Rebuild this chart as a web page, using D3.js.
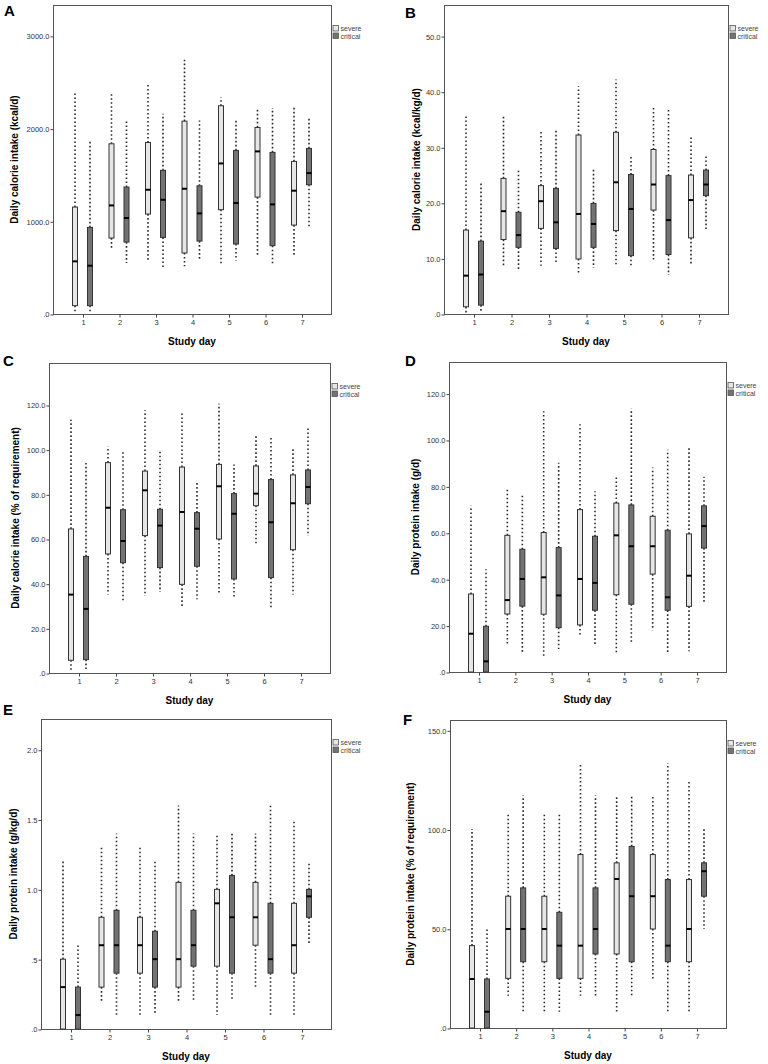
<!DOCTYPE html>
<html>
<head>
<meta charset="utf-8">
<script src="https://cdn.jsdelivr.net/npm/d3@7"></script>
<style>
  body { margin: 0; background: #fff; }
  svg { display: block; font-family: "Liberation Sans", Arial, sans-serif; }
</style>
</head>
<body>
<script>
const days = [1, 2, 3, 4, 5, 6, 7];
const groups = ["severe", "critical"];

// each row: [low whisker, Q1, median, Q3, high whisker], one row per study day
const kcalSevere = [[10, 90, 568, 1153, 2390], [693, 819, 1171, 1836, 2371], [568, 1078, 1340, 1850, 2472], [514, 658, 1351, 2080, 2742], [528, 1125, 1624, 2246, 2339], [629, 1261, 1754, 2012, 2228], [622, 959, 1330, 1646, 2239]];
const kcalCritical = [[29, 90, 521, 934, 1861], [550, 776, 1035, 1369, 2088], [496, 826, 1232, 1549, 2160], [578, 787, 1085, 1383, 2088], [578, 755, 1197, 1764, 2088], [532, 737, 1182, 1743, 2221], [927, 1394, 1520, 1786, 2131]];

const kcalKgSevere = [[0.2, 1.3, 6.9, 15.1, 35.8], [8.6, 13.4, 18.5, 24.4, 35.6], [8.7, 15.4, 20.3, 23.1, 33.2], [7.2, 9.9, 18.0, 32.2, 41.0], [8.7, 15.0, 23.7, 32.7, 42.2], [9.8, 18.7, 23.3, 29.6, 37.2], [8.7, 13.7, 20.5, 25.0, 32.0]];
const kcalKgCritical = [[0.4, 1.6, 7.1, 13.1, 23.7], [7.8, 12.0, 14.2, 18.3, 26.0], [9.0, 11.8, 16.5, 22.6, 33.4], [8.3, 12.0, 16.2, 19.9, 26.0], [8.4, 10.5, 18.9, 25.1, 28.3], [7.0, 10.7, 16.9, 24.9, 36.9], [15.3, 21.3, 23.3, 25.9, 28.6]];

const kcalPctSevere = [[0.9, 5.7, 35.1, 64.5, 113.4], [35.1, 53.3, 74.0, 94.2, 101.5], [34.5, 61.5, 81.8, 90.4, 117.6], [29.1, 39.7, 72.1, 92.2, 117.3], [35.1, 60.0, 83.6, 93.4, 120.6], [57.9, 74.9, 80.3, 92.7, 106.0], [35.1, 55.2, 76.0, 88.7, 100.3]];
const kcalPctCritical = [[1.8, 6.0, 28.7, 52.2, 94.0], [31.5, 49.4, 59.1, 73.1, 98.8], [36.3, 47.2, 66.0, 73.3, 99.7], [33.0, 47.8, 64.6, 71.8, 86.0], [33.6, 42.1, 71.3, 80.3, 93.4], [28.4, 42.7, 67.5, 86.6, 105.4], [61.3, 75.8, 83.3, 90.9, 109.6]];

const protSevere = [[0, 0, 16.5, 33.6, 71.6], [12.2, 25.0, 31.0, 58.9, 79.5], [6.0, 24.9, 40.8, 60.1, 112.4], [15.1, 20.3, 40.1, 70.0, 106.8], [8.0, 33.3, 58.9, 72.8, 84.5], [18.0, 42.2, 54.2, 67.1, 88.1], [8.9, 28.3, 41.5, 59.5, 97.4]];
const protCritical = [[0, 0, 4.6, 19.7, 44.3], [8.5, 28.4, 40.1, 52.9, 76.0], [9.9, 19.1, 33.0, 53.6, 90.2], [12.1, 26.6, 38.4, 58.5, 77.9], [12.1, 29.2, 54.2, 72.0, 113.5], [8.5, 26.6, 32.2, 61.1, 95.8], [30.0, 53.4, 62.9, 71.6, 84.1]];

const protKgSevere = [[0, 0, 0.3, 0.5, 1.2], [0.2, 0.3, 0.6, 0.8, 1.3], [0.1, 0.4, 0.6, 0.8, 1.3], [0.2, 0.3, 0.5, 1.05, 1.6], [0.1, 0.45, 0.9, 1.0, 1.4], [0.3, 0.6, 0.8, 1.05, 1.4], [0.1, 0.4, 0.6, 0.9, 1.5]];
const protKgCritical = [[0, 0, 0.1, 0.3, 0.6], [0.1, 0.4, 0.6, 0.85, 1.4], [0.1, 0.3, 0.5, 0.7, 1.2], [0.2, 0.45, 0.6, 0.85, 1.4], [0.2, 0.4, 0.8, 1.1, 1.4], [0.1, 0.4, 0.5, 0.9, 1.6], [0.6, 0.8, 0.95, 1.0, 1.2]];

const protPctSevere = [[0, 0, 24.7, 41.5, 100.3], [16.3, 25.0, 49.9, 66.4, 108.7], [8.2, 33.4, 49.9, 66.4, 108.7], [16.3, 25.0, 41.5, 87.4, 133.5], [8.2, 37.3, 75.1, 83.2, 117.1], [25.0, 49.9, 66.4, 87.4, 117.1], [8.2, 33.4, 49.9, 74.8, 125.1]];
const protPctCritical = [[0, 0, 8.2, 24.7, 50.2], [8.2, 33.4, 49.9, 70.6, 117.1], [8.2, 25.0, 41.5, 58.3, 108.7], [16.3, 37.3, 49.9, 70.6, 117.1], [16.3, 33.4, 66.4, 91.5, 117.1], [8.2, 33.4, 41.5, 74.8, 133.5], [49.9, 66.4, 79.0, 83.2, 100.3]];

const panelLetters = ["A", "B", "C", "D", "E", "F"];
const yTitles = [
  "Daily calorie intake (kcal/d)",
  "Daily calorie intake (kcal/kg/d)",
  "Daily calorie intake (% of requirement)",
  "Daily protein intake (g/d)",
  "Daily protein intake (g/kg/d)",
  "Daily protein intake (% of requirement)"
];
const yTicksA = [0, 1000, 2000, 3000];
const yTicksB = [0, 10, 20, 30, 40, 50];
const yTicksC = [0, 20, 40, 60, 80, 100, 120];
const yTicksD = [0, 20, 40, 60, 80, 100, 120];
const yTicksE = [0, 0.5, 1, 1.5, 2];
const yTicksF = [0, 50, 100, 150];
const xTitle = "Study day";

const width = 768;
const height = 1064;

// frame box of each plot, letter position, y title x
const panels = [
  { severe: kcalSevere, critical: kcalCritical, ticks: yTicksA, yMax: 3333, left: 53, right: 331, top: 5, bottom: 314, letter: [4, 16], titleX: 14 },
  { severe: kcalKgSevere, critical: kcalKgCritical, ticks: yTicksB, yMax: 55.6, left: 444, right: 728, top: 5, bottom: 314, letter: [405, 18], titleX: 416 },
  { severe: kcalPctSevere, critical: kcalPctCritical, ticks: yTicksC, yMax: 138.8, left: 49, right: 330, top: 363, bottom: 673, letter: [3, 366], titleX: 15 },
  { severe: protSevere, critical: protCritical, ticks: yTicksD, yMax: 133.6, left: 449, right: 726, top: 362, bottom: 672, letter: [405, 366], titleX: 415 },
  { severe: protKgSevere, critical: protKgCritical, ticks: yTicksE, yMax: 2.22, left: 41, right: 331, top: 719, bottom: 1029, letter: [3, 715], titleX: 13 },
  { severe: protPctSevere, critical: protPctCritical, ticks: yTicksF, yMax: 155.2, left: 450, right: 726, top: 720, bottom: 1028, letter: [403, 725], titleX: 410 }
];

const fill = { severe: "#e6e6e6", critical: "#737373" };

function fmt(v) {
  return d3.format(".1f")(v).replace(/^0\./, ".");
}

const svg = d3.select("body").append("svg")
  .attr("width", width)
  .attr("height", height)
  .attr("viewBox", [0, 0, width, height]);

svg.append("rect").attr("width", width).attr("height", height).attr("fill", "#fff");

panels.forEach(function (p, i) {
  const x = d3.scalePoint().domain(days).range([p.left + 29.5, p.right - 29.5]);
  const xg = d3.scalePoint().domain(groups).range([-7.5, 7.5]);
  const y = d3.scaleLinear().domain([0, p.yMax]).range([p.bottom, p.top]);

  const g = svg.append("g").attr("class", "panel");

  // frame
  g.append("rect")
    .attr("x", p.left + 0.5).attr("y", p.top + 0.5)
    .attr("width", p.right - p.left).attr("height", p.bottom - p.top)
    .attr("fill", "none").attr("stroke", "#555").attr("stroke-width", 1);

  const yAxis = g.append("g")
    .attr("transform", `translate(${p.left + 0.5},0.5)`)
    .call(d3.axisLeft(y).tickValues(p.ticks).tickFormat(fmt).tickSize(3).tickPadding(1));
  yAxis.select(".domain").remove();
  yAxis.selectAll("line").attr("stroke", "#444");
  yAxis.selectAll("text").attr("font-size", 7.5).attr("fill", "#333")
    .attr("font-family", "Liberation Sans, Arial, sans-serif");

  const xAxis = g.append("g")
    .attr("transform", `translate(0.5,${p.bottom + 0.5})`)
    .call(d3.axisBottom(x).tickSize(3).tickPadding(2));
  xAxis.select(".domain").remove();
  xAxis.selectAll("line").attr("stroke", "#444");
  xAxis.selectAll("text").attr("font-size", 7.5).attr("fill", "#333")
    .attr("font-family", "Liberation Sans, Arial, sans-serif");

  groups.forEach(function (grp) {
    const rows = p[grp];
    const boxes = g.append("g").selectAll("g")
      .data(rows.map((r, k) => ({ day: days[k], lo: r[0], q1: r[1], med: r[2], q3: r[3], hi: r[4] })))
      .join("g")
      .attr("transform", d => `translate(${x(d.day) + xg(grp)},0)`);

    // whiskers
    boxes.append("line")
      .attr("y1", d => y(d.q3)).attr("y2", d => y(d.hi))
      .attr("stroke", "#2a2a2a").attr("stroke-width", 1.6)
      .attr("stroke-dasharray", "1.6,2.4");
    boxes.filter(d => d.q1 > d.lo).append("line")
      .attr("y1", d => y(d.q1)).attr("y2", d => y(d.lo))
      .attr("stroke", "#2a2a2a").attr("stroke-width", 1.6)
      .attr("stroke-dasharray", "1.6,2.4");

    boxes.append("rect")
      .attr("x", -2.5).attr("width", 5)
      .attr("y", d => y(d.q3)).attr("height", d => y(d.q1) - y(d.q3))
      .attr("fill", fill[grp]).attr("stroke", "#333").attr("stroke-width", 1);

    boxes.append("line")
      .attr("x1", -2.5).attr("x2", 2.5)
      .attr("y1", d => y(d.med)).attr("y2", d => y(d.med))
      .attr("stroke", "#000").attr("stroke-width", 2);
  });

  // legend, just right of the frame
  const lg = g.append("g").attr("transform", `translate(${p.right + 1.5},${p.top + 20})`);
  groups.forEach(function (grp, k) {
    lg.append("rect")
      .attr("x", 0.5).attr("y", k * 7.5 + 0.5)
      .attr("width", 5.5).attr("height", 5.5)
      .attr("fill", fill[grp]).attr("stroke", "#555").attr("stroke-width", 0.8);
    lg.append("text")
      .attr("x", 8).attr("y", k * 7.5 + 6)
      .attr("font-size", 7).attr("fill", "#444")
      .text(grp);
  });

  // titles
  g.append("text")
    .attr("transform", `translate(${p.titleX},${(p.top + p.bottom) / 2}) rotate(-90)`)
    .attr("text-anchor", "middle").attr("dy", "0.35em")
    .attr("font-size", 10).attr("font-weight", "bold")
    .text(yTitles[i]);

  g.append("text")
    .attr("x", (p.left + p.right) / 2).attr("y", p.bottom + 31)
    .attr("text-anchor", "middle")
    .attr("font-size", 10).attr("font-weight", "bold")
    .text(xTitle);

  g.append("text")
    .attr("x", p.letter[0]).attr("y", p.letter[1])
    .attr("font-size", 15).attr("font-weight", "bold")
    .text(panelLetters[i]);
});
</script>
</body>
</html>
